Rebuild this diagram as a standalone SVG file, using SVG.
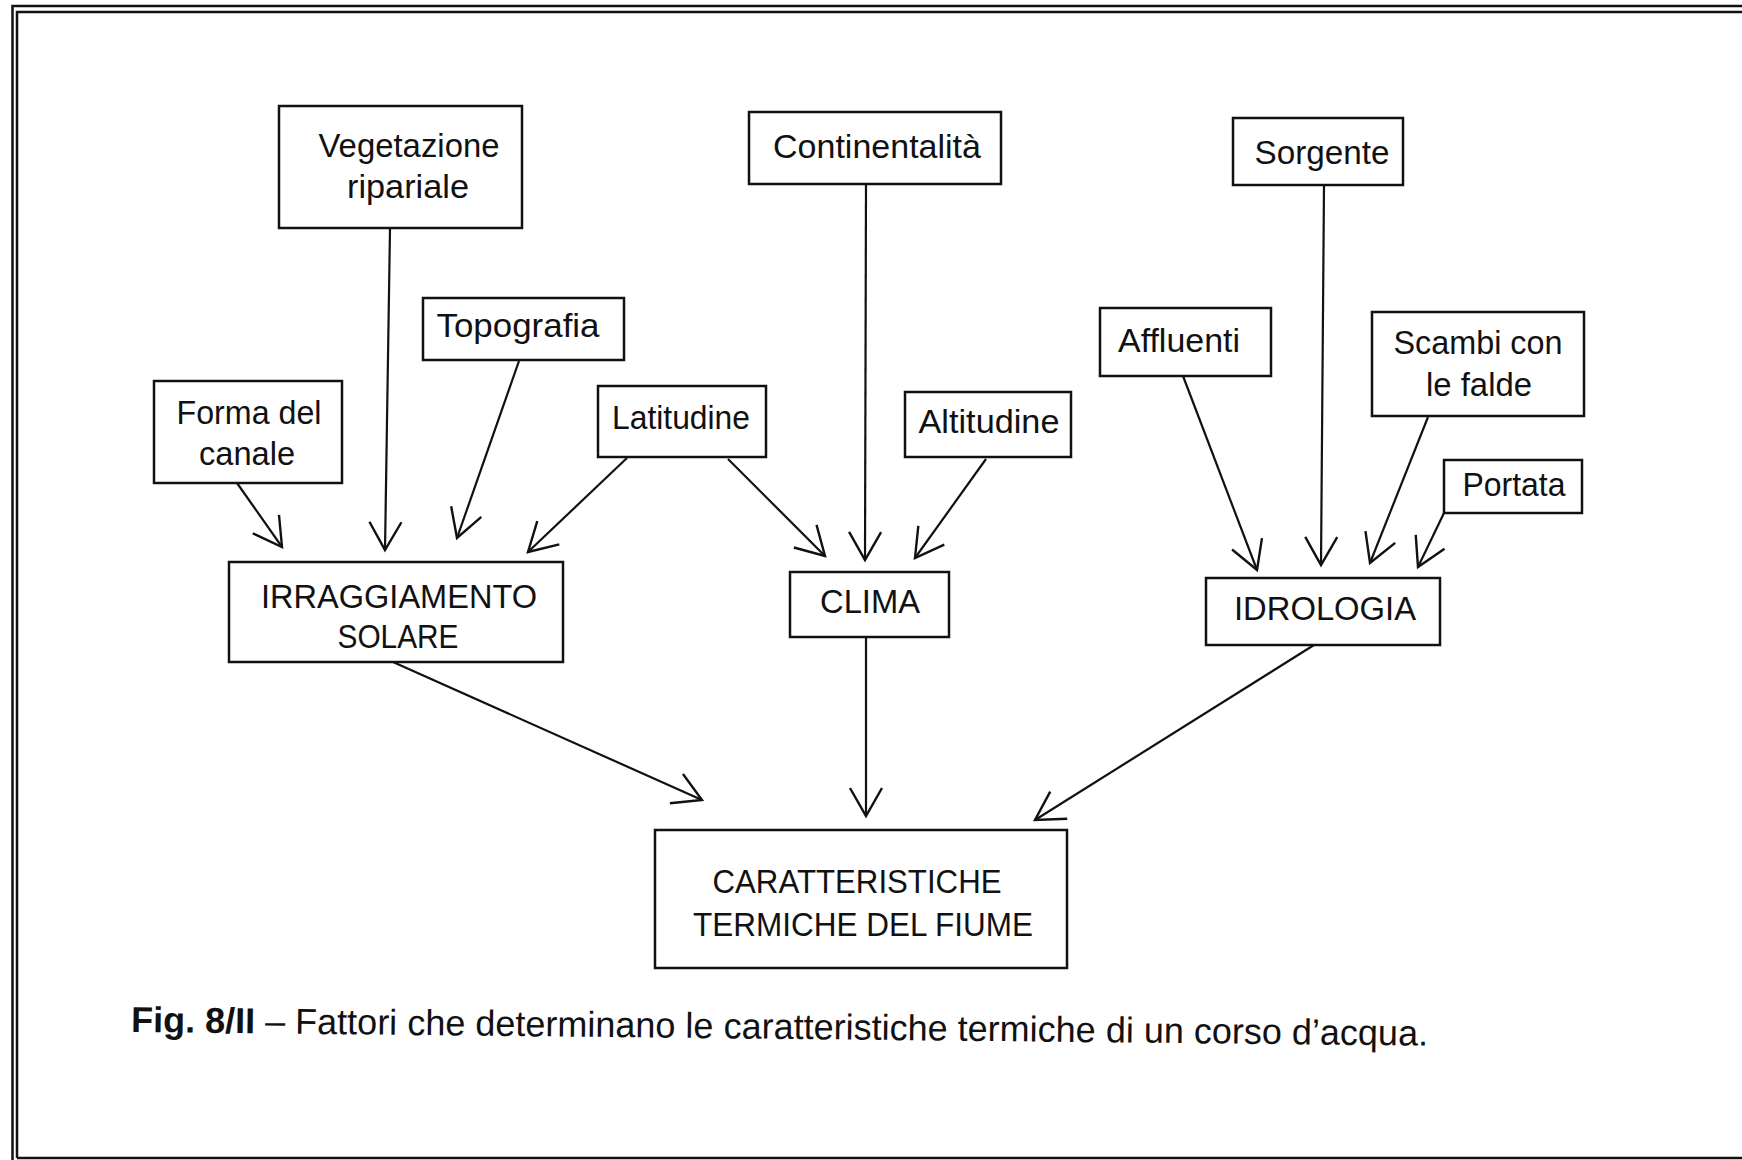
<svg xmlns="http://www.w3.org/2000/svg" width="1742" height="1160" viewBox="0 0 1742 1160">
<defs>
<style>
.box{fill:none;stroke:#111;stroke-width:2.5}
.lbl{font-family:"Liberation Sans",Arial,sans-serif;font-size:33px;fill:#111;text-anchor:middle}
.con{fill:none;stroke:#111;stroke-width:2.2}
.frame{fill:none;stroke:#111;stroke-width:2.5}
.cap{font-family:"Liberation Sans",Arial,sans-serif;font-size:36px;fill:#111}
</style>
<marker id="ah" markerUnits="userSpaceOnUse" viewBox="-32 -18 36 36" markerWidth="36" markerHeight="36" refX="0" refY="0" orient="auto" overflow="visible">
<path d="M-28,-16 L0,0 L-28,16" fill="none" stroke="#111" stroke-width="2.4" stroke-linejoin="miter"/>
</marker>
</defs>
<rect width="1742" height="1160" fill="#fff"/>
<g id="frame">
<path class="frame" d="M12.5,1160 L12.5,6 L1742,6"/>
<path class="frame" d="M17,1158 L17,12 L1742,12 M17,1158 L1742,1158"/>
</g>
<g id="connectors">
<line class="con" x1="237" y1="483" x2="282" y2="547" marker-end="url(#ah)"/>
<line class="con" x1="390" y1="229" x2="385" y2="550" marker-end="url(#ah)"/>
<line class="con" x1="519" y1="361" x2="457" y2="538" marker-end="url(#ah)"/>
<line class="con" x1="627" y1="458" x2="528" y2="552" marker-end="url(#ah)"/>
<line class="con" x1="728" y1="459" x2="825" y2="556" marker-end="url(#ah)"/>
<line class="con" x1="866" y1="184" x2="865" y2="560" marker-end="url(#ah)"/>
<line class="con" x1="986" y1="459" x2="915" y2="558" marker-end="url(#ah)"/>
<line class="con" x1="1183" y1="376" x2="1257" y2="570" marker-end="url(#ah)"/>
<line class="con" x1="1324" y1="185" x2="1321" y2="565" marker-end="url(#ah)"/>
<line class="con" x1="1428" y1="417" x2="1370" y2="563" marker-end="url(#ah)"/>
<line class="con" x1="1444" y1="513" x2="1418" y2="567" marker-end="url(#ah)"/>
<line class="con" x1="393" y1="662" x2="702" y2="800" marker-end="url(#ah)"/>
<line class="con" x1="866" y1="638" x2="866" y2="816" marker-end="url(#ah)"/>
<line class="con" x1="1314" y1="645" x2="1035" y2="820" marker-end="url(#ah)"/>
</g>
<g id="vegetazione">
<rect class="box" x="279" y="106" width="243" height="122"/>
<text class="lbl" x="409" y="157" textLength="181" lengthAdjust="spacingAndGlyphs">Vegetazione</text>
<text class="lbl" x="408" y="198" textLength="122" lengthAdjust="spacingAndGlyphs">ripariale</text>
</g>
<g id="topografia">
<rect class="box" x="423" y="298" width="201" height="62"/>
<text class="lbl" x="518" y="337" textLength="163" lengthAdjust="spacingAndGlyphs">Topografia</text>
</g>
<g id="forma">
<rect class="box" x="154" y="381" width="188" height="102"/>
<text class="lbl" x="249" y="424" textLength="145" lengthAdjust="spacingAndGlyphs">Forma del</text>
<text class="lbl" x="247" y="465" textLength="96" lengthAdjust="spacingAndGlyphs">canale</text>
</g>
<g id="latitudine">
<rect class="box" x="598" y="386" width="168" height="71"/>
<text class="lbl" x="681" y="429" textLength="138" lengthAdjust="spacingAndGlyphs">Latitudine</text>
</g>
<g id="continentalita">
<rect class="box" x="749" y="112" width="252" height="72"/>
<text class="lbl" x="877" y="158" textLength="208" lengthAdjust="spacingAndGlyphs">Continentalità</text>
</g>
<g id="altitudine">
<rect class="box" x="905" y="392" width="166" height="65"/>
<text class="lbl" x="989" y="433" textLength="141" lengthAdjust="spacingAndGlyphs">Altitudine</text>
</g>
<g id="sorgente">
<rect class="box" x="1233" y="118" width="170" height="67"/>
<text class="lbl" x="1322" y="164" textLength="135" lengthAdjust="spacingAndGlyphs">Sorgente</text>
</g>
<g id="affluenti">
<rect class="box" x="1100" y="308" width="171" height="68"/>
<text class="lbl" x="1179" y="352" textLength="122" lengthAdjust="spacingAndGlyphs">Affluenti</text>
</g>
<g id="scambi">
<rect class="box" x="1372" y="312" width="212" height="104"/>
<text class="lbl" x="1478" y="354" textLength="169" lengthAdjust="spacingAndGlyphs">Scambi con</text>
<text class="lbl" x="1479" y="396" textLength="106" lengthAdjust="spacingAndGlyphs">le falde</text>
</g>
<g id="portata">
<rect class="box" x="1444" y="460" width="138" height="53"/>
<text class="lbl" x="1514" y="496" textLength="103" lengthAdjust="spacingAndGlyphs">Portata</text>
</g>
<g id="irraggiamento">
<rect class="box" x="229" y="562" width="334" height="100"/>
<text class="lbl" x="399" y="608" textLength="276" lengthAdjust="spacingAndGlyphs">IRRAGGIAMENTO</text>
<text class="lbl" x="398" y="648" textLength="121" lengthAdjust="spacingAndGlyphs">SOLARE</text>
</g>
<g id="clima">
<rect class="box" x="790" y="572" width="159" height="65"/>
<text class="lbl" x="870" y="613" textLength="100" lengthAdjust="spacingAndGlyphs">CLIMA</text>
</g>
<g id="idrologia">
<rect class="box" x="1206" y="578" width="234" height="67"/>
<text class="lbl" x="1325" y="620" textLength="182" lengthAdjust="spacingAndGlyphs">IDROLOGIA</text>
</g>
<g id="caratteristiche">
<rect class="box" x="655" y="830" width="412" height="138"/>
<text class="lbl" x="857" y="893" textLength="289" lengthAdjust="spacingAndGlyphs">CARATTERISTICHE</text>
<text class="lbl" x="863" y="936" textLength="340" lengthAdjust="spacingAndGlyphs">TERMICHE DEL FIUME</text>
</g>
<g id="caption">
<text class="cap" x="131" y="1032" textLength="1297" lengthAdjust="spacingAndGlyphs" transform="rotate(0.6 131 1032)"><tspan font-weight="bold">Fig. 8/II</tspan> – Fattori che determinano le caratteristiche termiche di un corso d’acqua.</text>
</g>
</svg>
